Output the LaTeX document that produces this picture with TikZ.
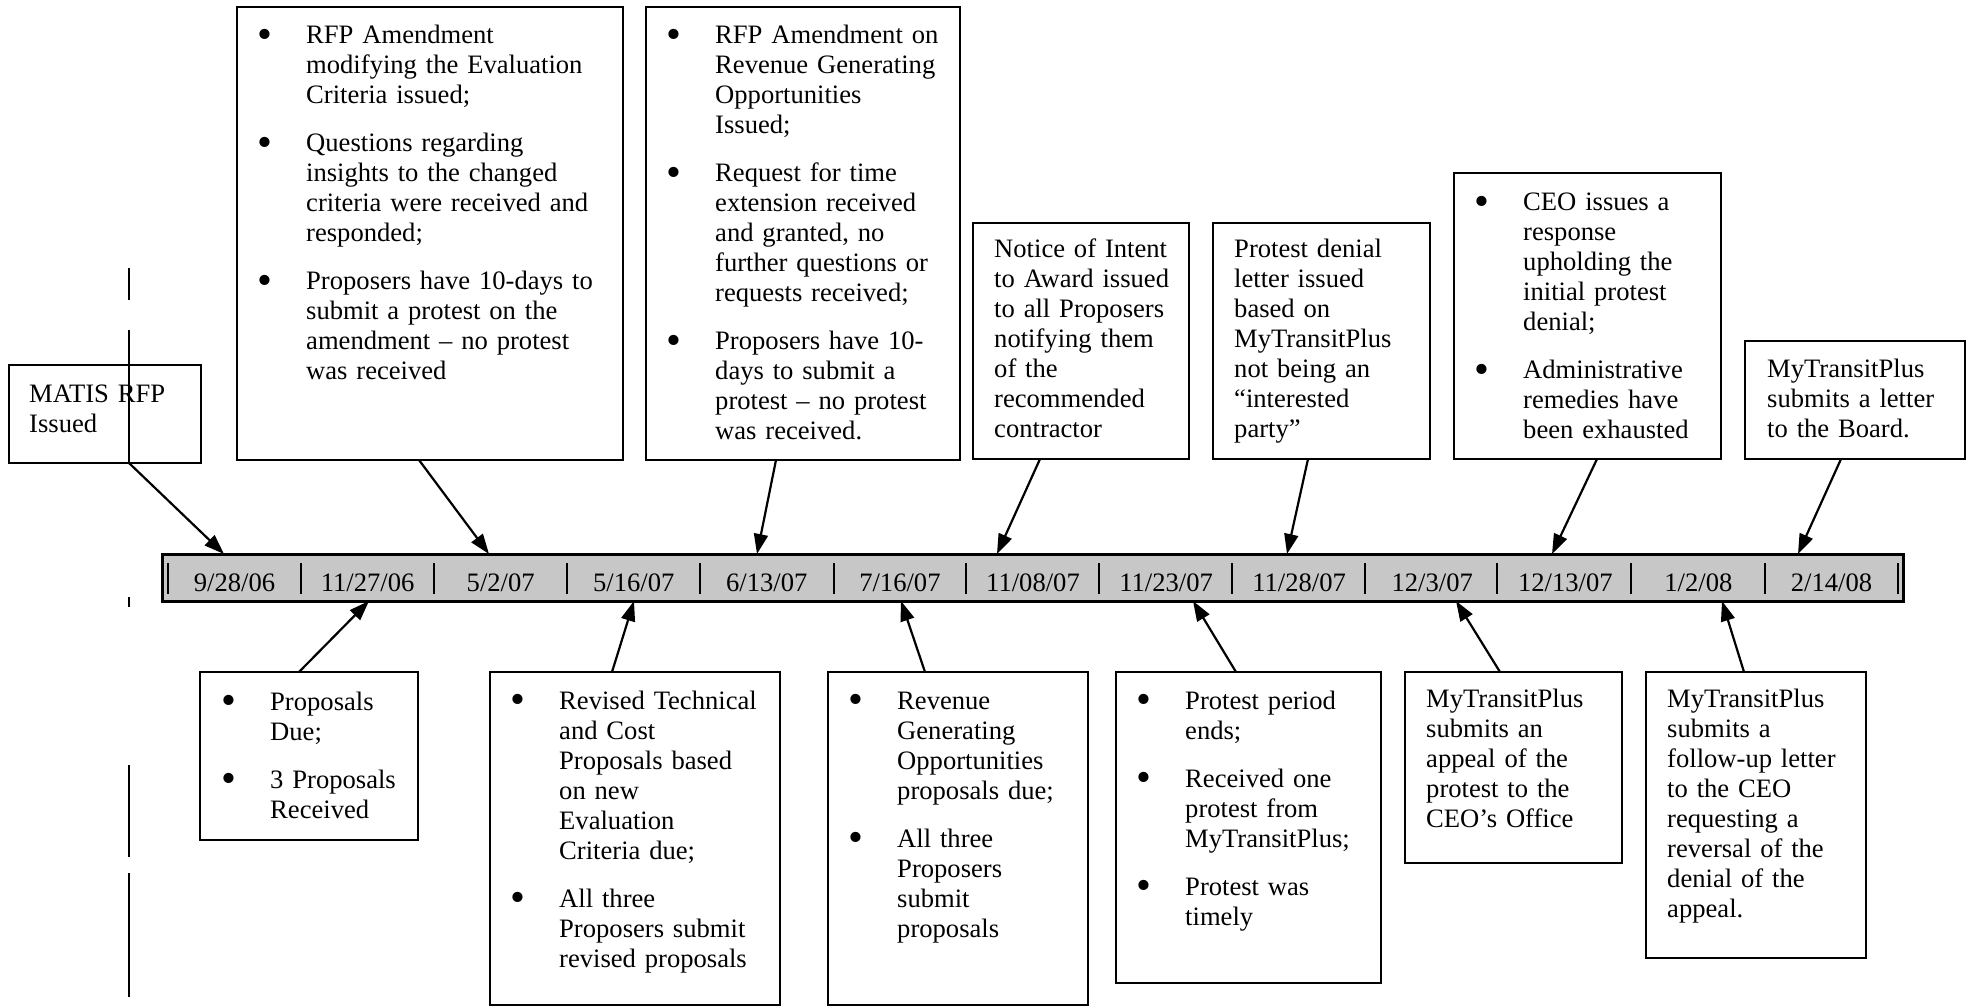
\documentclass[tikz,border=0pt]{standalone}
\usepackage{fontspec}
\setmainfont{Liberation Serif}
\usetikzlibrary{arrows.meta}

\newcommand{\evbul}{\leavevmode\llap{\raisebox{-4.5pt}{\scalebox{1.6}{\textbullet}}\hspace{33.5pt}}}
\newcommand{\evgap}{\par\vspace{18pt}}

\begin{document}
\begin{tikzpicture}[x=1pt, y=-1pt,
    evbox/.style={draw, line width=2.4pt, inner sep=0pt, outer sep=0pt, anchor=north west},
    evtext/.style={inner sep=0pt, anchor=base west, text width=300pt, align=left,
      font=\fontsize{26.6}{30}\selectfont},
    datetxt/.style={inner sep=0pt, anchor=base, font=\fontsize{26.6}{30}\selectfont},
    evarrow/.style={line width=2.2pt, -{Triangle[length=20pt, width=14pt]}},
    barbox/.style={draw, line width=3pt, fill=black!22, inner sep=0pt, outer sep=0pt, anchor=north west}]
  \useasboundingbox (0,0) rectangle (1970,1008);

  % time bar
  \node[barbox, minimum width=1741pt, minimum height=47pt] (bar) at (162,554) {};
  \node[datetxt] (d1) at (234.5,591) {9/28/06};
  \node[datetxt] (d2) at (367.6,591) {11/27/06};
  \node[datetxt] (d3) at (500.7,591) {5/2/07};
  \node[datetxt] (d4) at (633.7,591) {5/16/07};
  \node[datetxt] (d5) at (766.8,591) {6/13/07};
  \node[datetxt] (d6) at (899.9,591) {7/16/07};
  \node[datetxt] (d7) at (1033,591) {11/08/07};
  \node[datetxt] (d8) at (1166.1,591) {11/23/07};
  \node[datetxt] (d9) at (1299.1,591) {11/28/07};
  \node[datetxt] (d10) at (1432.2,591) {12/3/07};
  \node[datetxt] (d11) at (1565.3,591) {12/13/07};
  \node[datetxt] (d12) at (1698.4,591) {1/2/08};
  \node[datetxt] (d13) at (1831.5,591) {2/14/08};
  \draw[line width=2.5pt] (168,563) -- (168,594);
  \draw[line width=2.5pt] (301,563) -- (301,594);
  \draw[line width=2.5pt] (434,563) -- (434,594);
  \draw[line width=2.5pt] (567,563) -- (567,594);
  \draw[line width=2.5pt] (700,563) -- (700,594);
  \draw[line width=2.5pt] (834,563) -- (834,594);
  \draw[line width=2.5pt] (966,563) -- (966,594);
  \draw[line width=2.5pt] (1099,563) -- (1099,594);
  \draw[line width=2.5pt] (1232,563) -- (1232,594);
  \draw[line width=2.5pt] (1365,563) -- (1365,594);
  \draw[line width=2.5pt] (1497,563) -- (1497,594);
  \draw[line width=2.5pt] (1631,563) -- (1631,594);
  \draw[line width=2.5pt] (1765,563) -- (1765,594);
  \draw[line width=2.5pt] (1898,563) -- (1898,594);

  % top row
  \node[evbox, minimum width=192pt, minimum height=98pt] (matis) at (9,365) {};
  \node[evtext] (matistxt) at ([shift={(20,37)}]matis.north west) {MATIS RFP\\ Issued};

  \node[evbox, minimum width=386pt, minimum height=453pt] (amend) at (237,7) {};
  \node[evtext] (amendtxt) at ([shift={(69,37)}]amend.north west) {%
    \evbul RFP Amendment\\ modifying the Evaluation\\ Criteria issued;\evgap
    \evbul Questions regarding\\ insights to the changed\\ criteria were received and\\ responded;\evgap
    \evbul Proposers have 10-days to\\ submit a protest on the\\ amendment -- no protest\\ was received};

  \node[evbox, minimum width=314pt, minimum height=453pt] (revgen) at (646,7) {};
  \node[evtext] (revgentxt) at ([shift={(69,37)}]revgen.north west) {%
    \evbul RFP Amendment on\\ Revenue Generating\\ Opportunities\\ Issued;\evgap
    \evbul Request for time\\ extension received\\ and granted, no\\ further questions or\\ requests received;\evgap
    \evbul Proposers have 10-\\ days to submit a\\ protest -- no protest\\ was received.};

  \node[evbox, minimum width=216pt, minimum height=236pt] (notice) at (973,223) {};
  \node[evtext] (noticetxt) at ([shift={(21,35)}]notice.north west) {%
    Notice of Intent\\ to Award issued\\ to all Proposers\\ notifying them\\ of the\\ recommended\\ contractor};

  \node[evbox, minimum width=217pt, minimum height=236pt] (denial) at (1213,223) {};
  \node[evtext] (denialtxt) at ([shift={(21,35)}]denial.north west) {%
    Protest denial\\ letter issued\\ based on\\ MyTransitPlus\\ not being an\\ “interested\\ party”};

  \node[evbox, minimum width=267pt, minimum height=286pt] (ceo) at (1454,173) {};
  \node[evtext] (ceotxt) at ([shift={(69,38)}]ceo.north west) {%
    \evbul CEO issues a\\ response\\ upholding the\\ initial protest\\ denial;\evgap
    \evbul Administrative\\ remedies have\\ been exhausted};

  \node[evbox, minimum width=220pt, minimum height=118pt] (letter) at (1745,341) {};
  \node[evtext] (lettertxt) at ([shift={(22,36)}]letter.north west) {%
    MyTransitPlus\\ submits a letter\\ to the Board.};

  % bottom row
  \node[evbox, minimum width=218pt, minimum height=168pt] (due) at (200,672) {};
  \node[evtext] (duetxt) at ([shift={(70,38)}]due.north west) {%
    \evbul Proposals\\ Due;\evgap
    \evbul 3 Proposals\\ Received};

  \node[evbox, minimum width=290pt, minimum height=333pt] (revised) at (490,672) {};
  \node[evtext] (revisedtxt) at ([shift={(69,37)}]revised.north west) {%
    \evbul Revised Technical\\ and Cost\\ Proposals based\\ on new\\ Evaluation\\ Criteria due;\evgap
    \evbul All three\\ Proposers submit\\ revised proposals};

  \node[evbox, minimum width=260pt, minimum height=333pt] (revenue) at (828,672) {};
  \node[evtext] (revenuetxt) at ([shift={(69,37)}]revenue.north west) {%
    \evbul Revenue\\ Generating\\ Opportunities\\ proposals due;\evgap
    \evbul All three\\ Proposers\\ submit\\ proposals};

  \node[evbox, minimum width=265pt, minimum height=311pt] (period) at (1116,672) {};
  \node[evtext] (periodtxt) at ([shift={(69,37)}]period.north west) {%
    \evbul Protest period\\ ends;\evgap
    \evbul Received one\\ protest from\\ MyTransitPlus;\evgap
    \evbul Protest was\\ timely};

  \node[evbox, minimum width=217pt, minimum height=191pt] (appeal) at (1405,672) {};
  \node[evtext] (appealtxt) at ([shift={(21,35)}]appeal.north west) {%
    MyTransitPlus\\ submits an\\ appeal of the\\ protest to the\\ CEO’s Office};

  \node[evbox, minimum width=220pt, minimum height=286pt] (followup) at (1646,672) {};
  \node[evtext] (followuptxt) at ([shift={(21,35)}]followup.north west) {%
    MyTransitPlus\\ submits a\\ follow-up letter\\ to the CEO\\ requesting a\\ reversal of the\\ denial of the\\ appeal.};

  % dashed margin line
  \draw[line width=2pt] (129,268) -- (129,300);
  \draw[line width=2pt] (129,330) -- (matis.south west -| 129,0);
  \draw[line width=2pt] (129,597) -- (129,607);
  \draw[line width=2pt] (129,765) -- (129,857);
  \draw[line width=2pt] (129,873) -- (129,997);

  % arrows into the bar
  \draw[evarrow] ([xshift=120pt]matis.south west) -- ([xshift=62pt]bar.north west);
  \draw[evarrow] ([xshift=182pt]amend.south west) -- ([xshift=327pt]bar.north west);
  \draw[evarrow] ([xshift=130pt]revgen.south west) -- ([xshift=595pt]bar.north west);
  \draw[evarrow] ([xshift=67pt]notice.south west) -- ([xshift=835pt]bar.north west);
  \draw[evarrow] ([xshift=95pt]denial.south west) -- ([xshift=1125pt]bar.north west);
  \draw[evarrow] ([xshift=143pt]ceo.south west) -- ([xshift=1390pt]bar.north west);
  \draw[evarrow] ([xshift=96pt]letter.south west) -- ([xshift=1636pt]bar.north west);
  \draw[evarrow] ([xshift=99pt]due.north west) -- ([xshift=207pt]bar.south west);
  \draw[evarrow] ([xshift=122pt]revised.north west) -- ([xshift=472pt]bar.south west);
  \draw[evarrow] ([xshift=97pt]revenue.north west) -- ([xshift=739pt]bar.south west);
  \draw[evarrow] ([xshift=120pt]period.north west) -- ([xshift=1031pt]bar.south west);
  \draw[evarrow] ([xshift=95pt]appeal.north west) -- ([xshift=1294pt]bar.south west);
  \draw[evarrow] ([xshift=98pt]followup.north west) -- ([xshift=1560pt]bar.south west);
\end{tikzpicture}
\end{document}
